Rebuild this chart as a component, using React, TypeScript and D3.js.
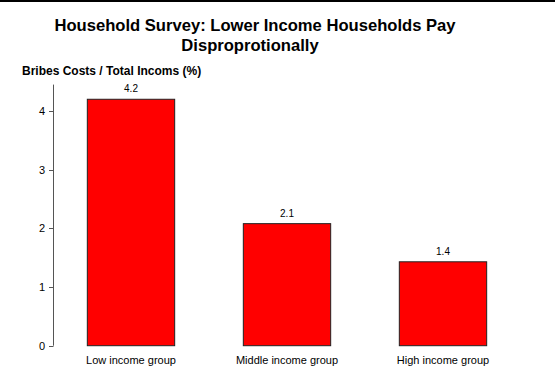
import React, { useEffect } from "react";
import * as d3 from "d3";

const categories = ["Low income group", "Middle income group", "High income group"];
const values = [4.2, 2.08, 1.43];
const valueLabels = ["4.2", "2.1", "1.4"];
const yTicks = [0, 1, 2, 3, 4];
const titleLines = ["Household Survey: Lower Income Households Pay", "Disproprotionally"];
const yTitle = "Bribes Costs / Total Incoms (%)";

const W = 555;
const H = 375;
const FONT = "'Liberation Sans', Arial, sans-serif";
const titleCenters = [255, 250];

export default function App() {
  useEffect(() => {
    document.body.style.margin = "0";
  }, []);
  const x = d3.scaleBand<string>().domain(categories).range([53, 521]).paddingInner(0.44).paddingOuter(0.22);
  const y = d3.scaleLinear().domain([0, 4]).range([345.7, 111]);
  const axisTop = y(4.45);
  return (
    <svg width={W} height={H} style={{ display: "block", background: "#fff" }} fontFamily={FONT}>
      <rect x={0} y={0} width={W} height={H} fill="#fff" />
      <line x1={0} x2={W} y1={1} y2={1} stroke="#000" strokeWidth={2} />
      {titleLines.map((t, i) => (
        <text key={i} x={titleCenters[i]} y={31 + i * 20} textAnchor="middle" fontSize={16.6} fontWeight="bold" fill="#000">
          {t}
        </text>
      ))}
      <text x={22} y={75} fontSize={12} fontWeight="bold" fill="#000">
        {yTitle}
      </text>
      <line x1={53.5} x2={53.5} y1={axisTop} y2={y(0)} stroke="#555" strokeWidth={1} />
      {yTicks.map((t) => (
        <g key={t}>
          <line x1={49} x2={53.5} y1={Math.round(y(t)) + 0.5} y2={Math.round(y(t)) + 0.5} stroke="#555" />
          <text x={45} y={y(t) + 4} textAnchor="end" fontSize={11} fill="#000">
            {t}
          </text>
        </g>
      ))}
      {categories.map((c, i) => {
        const bx = x(c)!;
        const bw = x.bandwidth();
        return (
          <g key={c}>
            <rect x={bx} y={y(values[i])} width={bw} height={y(0) - y(values[i])} fill="#ff0000" stroke="#222" strokeWidth={1} />
            <text x={bx + bw / 2} y={y(values[i]) - 7} textAnchor="middle" fontSize={10} fill="#000">
              {valueLabels[i]}
            </text>
            <text x={bx + bw / 2} y={364} textAnchor="middle" fontSize={11} fill="#000">
              {c}
            </text>
          </g>
        );
      })}
    </svg>
  );
}
